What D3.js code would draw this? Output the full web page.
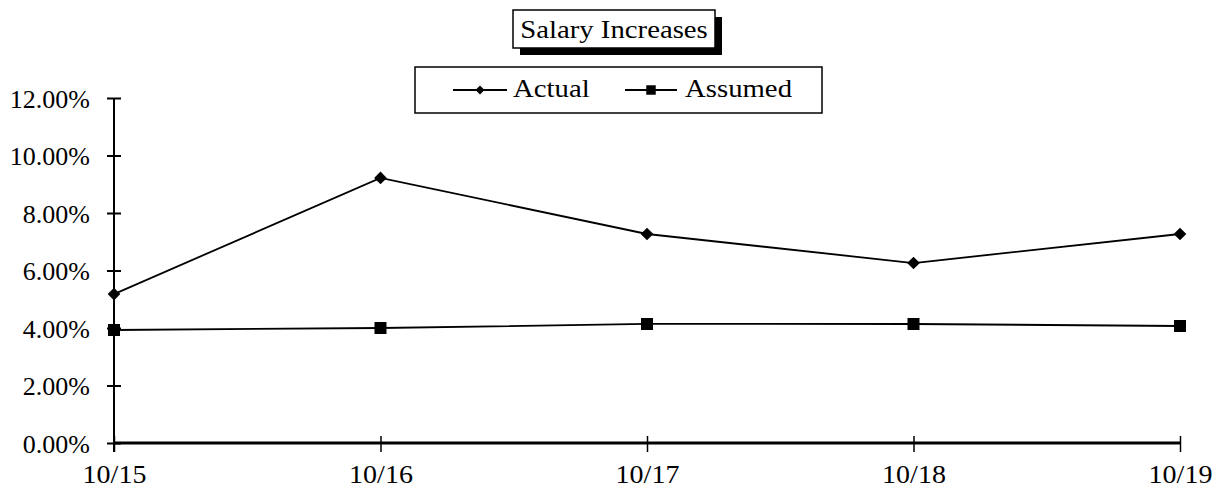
<!DOCTYPE html>
<html>
<head>
<meta charset="utf-8">
<script src="https://cdn.jsdelivr.net/npm/d3@7"></script>
<style>
  html, body { margin: 0; padding: 0; background: #fff; }
  text { font-family: "Liberation Serif", "Times New Roman", serif; fill: #000; }
</style>
</head>
<body>
<svg id="chart" width="1216" height="491"></svg>
<script>
const categories = ["10/15", "10/16", "10/17", "10/18", "10/19"];
const actual = [0.0518, 0.0922, 0.0727, 0.0626, 0.0727];
const assumed = [0.0393, 0.0400, 0.0414, 0.0414, 0.0407];
const yTicks = [0, 0.02, 0.04, 0.06, 0.08, 0.10, 0.12];
const titleText = "Salary Increases";
const seriesNames = ["Actual", "Assumed"];

(function () {
const svg = d3.select("#chart");
const pL = 114, pR = 1180, pT = 98, pB = 443;
const fs = 25, sxNum = 1.04, sxCat = 1.12, sxWord = 1.15;

const x = d3.scalePoint().domain(categories).range([pL, pR]);
const y = d3.scaleLinear().domain([0, 0.12]).range([pB, pT]);

// Y axis
const yAxis = d3.axisLeft(y).tickValues(yTicks).tickSize(0).tickFormat(d3.format(".2%"));
const gy = svg.append("g").attr("transform", `translate(${pL},0)`).call(yAxis);
gy.select(".domain").remove();
gy.selectAll(".tick text").remove();
gy.selectAll(".tick").append("line").attr("x1", -7).attr("x2", 7).attr("stroke", "#000").attr("stroke-width", 2);
gy.selectAll(".tick").append("text")
  .attr("transform", `translate(-24,9) scale(${sxNum},1)`)
  .attr("text-anchor", "end")
  .style("font-size", fs + "px")
  .text(d => d3.format(".2%")(d));
svg.append("line").attr("x1", pL).attr("x2", pL).attr("y1", pT).attr("y2", pB + 9)
  .attr("stroke", "#000").attr("stroke-width", 2);

// X axis
const xAxis = d3.axisBottom(x).tickSize(0);
const gx = svg.append("g").attr("transform", `translate(0,${pB})`).call(xAxis);
gx.select(".domain").remove();
gx.selectAll(".tick text").remove();
gx.selectAll(".tick").append("line").attr("y1", -7).attr("y2", 9).attr("stroke", "#000").attr("stroke-width", 1.5);
gx.selectAll(".tick").append("text")
  .attr("transform", `translate(0,40) scale(${sxCat},1)`)
  .attr("text-anchor", "middle")
  .style("font-size", fs + "px")
  .text(d => d);
svg.append("line").attr("x1", pL).attr("x2", pR).attr("y1", pB).attr("y2", pB)
  .attr("stroke", "#000").attr("stroke-width", 3);

// Lines
const line = d3.line().x((d, i) => x(categories[i])).y(d => y(d));
svg.append("path").datum(actual).attr("d", line).attr("fill", "none").attr("stroke", "#000").attr("stroke-width", 1.8);
svg.append("path").datum(assumed).attr("d", line).attr("fill", "none").attr("stroke", "#000").attr("stroke-width", 1.8);

svg.selectAll(".dia").data(actual).join("path").attr("class", "dia")
  .attr("d", d3.symbol().type(d3.symbolSquare).size(80))
  .attr("transform", (d, i) => `translate(${x(categories[i])},${y(d)}) rotate(45)`)
  .attr("fill", "#000");
svg.selectAll(".sq").data(assumed).join("path").attr("class", "sq")
  .attr("transform", (d, i) => `translate(${x(categories[i])},${y(d)})`)
  .attr("d", d3.symbol().type(d3.symbolSquare).size(144))
  .attr("fill", "#000");

// Title box with shadow
const tb = {x: 513, y: 10, w: 202, h: 38};
svg.append("rect").attr("x", tb.x + 7).attr("y", tb.y + 7).attr("width", tb.w).attr("height", tb.h).attr("fill", "#000");
svg.append("rect").attr("x", tb.x).attr("y", tb.y).attr("width", tb.w).attr("height", tb.h)
  .attr("fill", "#fff").attr("stroke", "#000").attr("stroke-width", 1.5);
svg.append("text").attr("transform", `translate(${tb.x + tb.w / 2},38) scale(${sxWord},1)`)
  .attr("text-anchor", "middle").style("font-size", fs + "px").text(titleText);

// Legend
svg.append("rect").attr("x", 415).attr("y", 67).attr("width", 407).attr("height", 46)
  .attr("fill", "#fff").attr("stroke", "#000").attr("stroke-width", 1.5);
const legendItems = [
  {name: seriesNames[0], x1: 453, x2: 507, tx: 513, shape: "diamond"},
  {name: seriesNames[1], x1: 625, x2: 677, tx: 685, shape: "square"}
];
const lg = svg.selectAll(".lg").data(legendItems).join("g").attr("class", "lg");
lg.append("line").attr("x1", d => d.x1).attr("x2", d => d.x2).attr("y1", 90).attr("y2", 90)
  .attr("stroke", "#000").attr("stroke-width", 1.8);
lg.append("path")
  .attr("transform", d => d.shape === "diamond" ? `translate(${(d.x1 + d.x2) / 2},90) rotate(45)` : `translate(${(d.x1 + d.x2) / 2},90)`)
  .attr("d", d => d.shape === "diamond" ? d3.symbol().type(d3.symbolSquare).size(40)() : d3.symbol().type(d3.symbolSquare).size(90)())
  .attr("fill", "#000");
lg.append("text").attr("transform", d => `translate(${d.tx},97) scale(${sxWord},1)`)
  .style("font-size", fs + "px").text(d => d.name);
})();
</script>
</body>
</html>
